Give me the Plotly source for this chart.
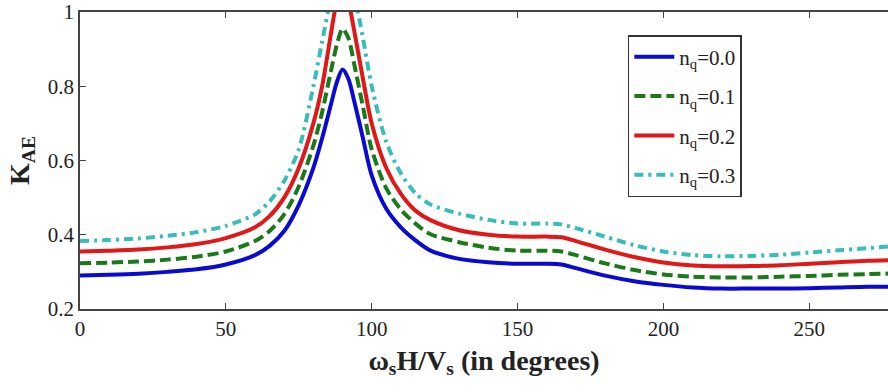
import plotly.graph_objects as go

x_deg = [0, 10, 20, 30, 40, 50, 60, 65, 70, 75, 80, 83, 86, 88, 90, 92, 94, 97, 100,
         105, 110, 115, 120, 130, 140, 150, 160, 165, 170, 180, 190, 200, 210, 220,
         230, 240, 250, 260, 270, 280]

k_nq00 = [0.290, 0.292, 0.295, 0.300, 0.307, 0.320, 0.345, 0.370, 0.410, 0.480, 0.580,
          0.660, 0.750, 0.810, 0.845, 0.820, 0.760, 0.660, 0.560, 0.470, 0.420, 0.385,
          0.358, 0.335, 0.326, 0.322, 0.322, 0.320, 0.310, 0.290, 0.275, 0.265, 0.258,
          0.255, 0.255, 0.255, 0.256, 0.258, 0.260, 0.260]
k_nq01 = [0.323, 0.325, 0.328, 0.333, 0.341, 0.355, 0.383, 0.410, 0.455, 0.530, 0.640,
          0.730, 0.840, 0.910, 0.955, 0.930, 0.860, 0.745, 0.630, 0.525, 0.468, 0.430,
          0.402, 0.380, 0.365, 0.357, 0.357, 0.355, 0.345, 0.323, 0.305, 0.293, 0.287,
          0.285, 0.285, 0.287, 0.289, 0.292, 0.294, 0.296]
k_nq02 = [0.355, 0.357, 0.360, 0.366, 0.375, 0.391, 0.420, 0.450, 0.500, 0.580, 0.700,
          0.800, 0.940, 1.030, 1.080, 1.030, 0.950, 0.820, 0.700, 0.580, 0.510, 0.465,
          0.440, 0.412, 0.400, 0.395, 0.395, 0.393, 0.383, 0.360, 0.340, 0.325, 0.317,
          0.315, 0.316, 0.318, 0.322, 0.326, 0.330, 0.332]
k_nq03 = [0.383, 0.386, 0.390, 0.397, 0.407, 0.424, 0.455, 0.490, 0.545, 0.630, 0.800,
          0.920, 1.040, 1.120, 1.160, 1.120, 1.050, 0.930, 0.800, 0.650, 0.565, 0.512,
          0.482, 0.457, 0.440, 0.430, 0.430, 0.428, 0.418, 0.395, 0.372, 0.355, 0.345,
          0.342, 0.343, 0.346, 0.352, 0.358, 0.364, 0.370]

series_names = ["n<sub>q</sub>=0.0", "n<sub>q</sub>=0.1", "n<sub>q</sub>=0.2", "n<sub>q</sub>=0.3"]
series_vals = [k_nq00, k_nq01, k_nq02, k_nq03]
colors = ["#0a0ad0", "#1a7a1a", "#e01818", "#38bcbc"]
dashes = ["solid", "11px,5px", "solid", "9px,5px,3px,5px"]

x_ticks = [0, 50, 100, 150, 200, 250]
y_ticks = [0.2, 0.4, 0.6, 0.8, 1.0]
y_tick_text = ["0.2", "0.4", "0.6", "0.8", "1"]

FONT = "Liberation Serif"

fig = go.Figure()
for i, (name, vals) in enumerate(zip(series_names, series_vals)):
    fig.add_trace(go.Scatter(
        x=x_deg, y=vals, name=name, mode="lines",
        line=dict(color=colors[i], width=4, dash=dashes[i], shape="spline", smoothing=0.8),
        legendgroup=str(i),
    ))

fig.update_layout(
    width=888, height=388,
    margin=dict(l=80, r=0, t=12, b=79),
    paper_bgcolor="white", plot_bgcolor="white",
    font=dict(family=FONT, size=20, color="#222"),
    showlegend=True,
    legend=dict(
        x=0.678, y=0.922, xanchor="left", yanchor="top",
        bgcolor="white", bordercolor="#333", borderwidth=1.5,
        font=dict(family=FONT, size=21, color="#222"),
        tracegroupgap=9, itemwidth=40,
    ),
)
fig.update_xaxes(
    range=[0, 277], tickvals=x_ticks, ticks="inside", ticklen=6, tickcolor="#444",
    showline=True, linecolor="#444", linewidth=1.5, mirror="ticks",
    showgrid=False, zeroline=False,
    tickfont=dict(family=FONT, size=21, color="#222"),
    title=dict(text="<b>ω<sub>s</sub>H/V<sub>s</sub> (in degrees)</b>",
               font=dict(family=FONT, size=28, color="#222"), standoff=10),
)
fig.update_yaxes(
    range=[0.2, 1.0], tickvals=y_ticks, ticktext=y_tick_text, ticks="inside", ticklen=6,
    tickcolor="#444", showline=True, linecolor="#444", linewidth=1.5, mirror=False,
    showgrid=False, zeroline=False,
    tickfont=dict(family=FONT, size=21, color="#222"),
    title=dict(text="<b>K<sub>AE</sub></b>", font=dict(family=FONT, size=28, color="#222"),
               standoff=10),
)

fig.write_html("out.html", config={"displayModeBar": False},
               post_script="document.body.style.margin='0px';")
